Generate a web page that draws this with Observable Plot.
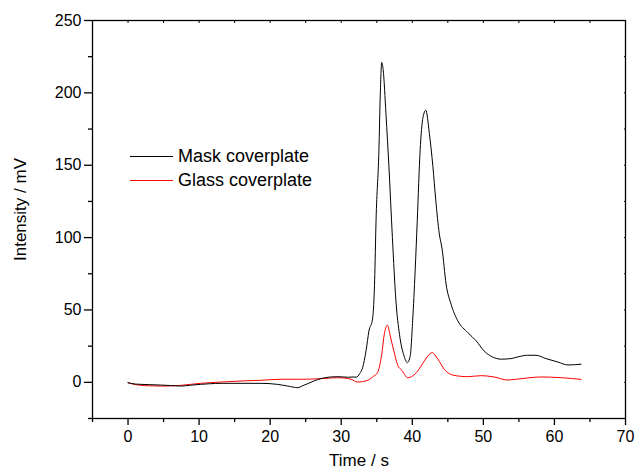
<!DOCTYPE html>
<html>
<head>
<meta charset="utf-8">
<script src="https://cdn.jsdelivr.net/npm/d3@7"></script>
<script src="https://cdn.jsdelivr.net/npm/@observablehq/plot@0.6"></script>
<style>
  html, body { margin: 0; padding: 0; background: #fff; }
  #wrap { position: relative; width: 635px; height: 475px; font-family: Arial, "Liberation Sans", sans-serif; }
  #legend { position: absolute; left: 130px; top: 144px; font-size: 18px; color: #000; }
  .row { display: flex; align-items: center; height: 24.5px; }
  .sw { width: 43px; height: 0; border-top: 1.2px solid; margin-right: 5px; }
</style>
</head>
<body>
<div id="wrap"><div id="legend"></div></div>
<script>
const seriesNames = ["Mask coverplate", "Glass coverplate"];
const seriesColors = ["#000000", "#ff0000"];

const maskTime = [0,1,1.8,3,4.6,6,7.4,8.8,10.2,11.5,13.1,15.9,18.7,21,22.5,23.9,24.5,25.3,26.2,27.1,28.5,29.5,31,31.8,32.1,32.6,33,33.5,33.9,34.4,34.7,34.9,35.3,35.5,35.7,35.9,36.3,36.7,37.2,37.7,38.2,38.85,39.3,39.7,40.05,40.4,40.7,41.1,41.5,41.9,42.4,42.9,43.3,43.8,44.2,44.75,45.45,46.4,47.8,49.0,50.1,51.3,52.5,53.9,54.8,56.25,57.4,58.8,60.5,61.9,63.75];
const maskValue = [-0.3,-1.2,-1.4,-1.6,-1.9,-2.2,-2.6,-2,-1.4,-1,-0.7,-0.7,-0.7,-1.4,-2.6,-3.7,-2.5,-0.9,1,2.5,3.7,3.9,3.5,3.7,3.5,6,10,22,35.5,43.7,70,112,160,200,221,216,185,150,100,56,33,18,13.6,18,42.5,77,112,160,183,188,172,149,126,102.6,92,68,54,42.5,34.4,28.6,21.7,17.5,16,16.4,17.5,18.7,18.7,16.4,14,12,12.5];

const glassTime = [0,1,1.8,3,4.6,6,7.4,8.8,10.2,13.1,15.9,18.7,21.5,24.3,27.1,29.5,31.4,32.3,33.7,34.6,35.1,35.7,36.05,36.5,36.9,37.4,37.9,38.6,39.35,40.05,40.76,41.7,42.5,42.8,43.6,44.5,45.7,47.8,49.7,51.5,53.4,55.3,58.1,61,63.75];
const glassValue = [-0.3,-1.5,-2.1,-2.4,-2.6,-2.5,-2.1,-1.4,-0.7,0.2,0.9,1.4,2.1,2.1,2.5,3.2,2.1,0.2,1.4,4.4,6.7,19.4,33,39.5,32,21.7,12.5,7.8,3.2,4.4,7.8,14.8,19.8,20.5,16,9,5,3.9,4.6,3.7,1.6,2.5,3.7,3.2,2];

const xMajor = [0,10,20,30,40,50,60,70];
const xMinor = [-5,5,15,25,35,45,55,65];
const yMajor = [0,50,100,150,200,250];
const yMinor = [-25,25,75,125,175,225];

const mask = maskTime.map((t, i) => ({t, v: maskValue[i], s: seriesNames[0]}));
const glass = glassTime.map((t, i) => ({t, v: glassValue[i], s: seriesNames[1]}));

const font = "Arial, 'Liberation Sans', sans-serif";
const chart = Plot.plot({
  width: 635,
  height: 475,
  marginLeft: 92,
  marginRight: 10,
  marginTop: 20,
  marginBottom: 57,
  style: {fontFamily: font, fontSize: "16px", color: "#000", background: "#fff"},
  x: {domain: [-5, 70]},
  y: {domain: [-25, 250]},
  marks: [
    Plot.axisX({ticks: xMajor, tickSize: 7, tickPadding: 5, label: null, fontSize: 16, strokeWidth: 1.3}),
    Plot.axisX({ticks: xMinor, tickSize: 4, text: null, label: null, strokeWidth: 1.3}),
    Plot.axisX({anchor: "top", ticks: [...xMajor, ...xMinor], tickSize: -2, text: null, label: null}),
    Plot.axisY({ticks: yMajor, tickSize: 8, tickPadding: 3, label: null, fontSize: 16, strokeWidth: 1.3}),
    Plot.axisY({ticks: yMinor, tickSize: 4, text: null, label: null, strokeWidth: 1.3}),
    Plot.axisY({anchor: "right", ticks: [...yMajor, ...yMinor], tickSize: -2, text: null, label: null}),
    Plot.frame({stroke: "#000", strokeWidth: 1.3}),
    Plot.line(glass, {x: "t", y: "v", stroke: seriesColors[1], strokeWidth: 1, curve: "monotone-x"}),
    Plot.line(mask, {x: "t", y: "v", stroke: seriesColors[0], strokeWidth: 1, curve: "monotone-x"}),
    Plot.text(["Intensity / mV"], {frameAnchor: "left", textAnchor: "middle", dx: -72, dy: -10, rotate: -90, fontSize: 17, fill: "#000"}),
    Plot.text(["Time / s"], {frameAnchor: "bottom", dy: 47, fontSize: 17, fill: "#000"})
  ]
});
document.getElementById("wrap").prepend(chart);

const legend = document.getElementById("legend");
seriesNames.forEach((n, i) => {
  const row = document.createElement("div");
  row.className = "row";
  const sw = document.createElement("span");
  sw.className = "sw";
  sw.style.borderColor = seriesColors[i];
  const tx = document.createElement("span");
  tx.textContent = n;
  row.append(sw, tx);
  legend.append(row);
});
</script>
</body>
</html>
